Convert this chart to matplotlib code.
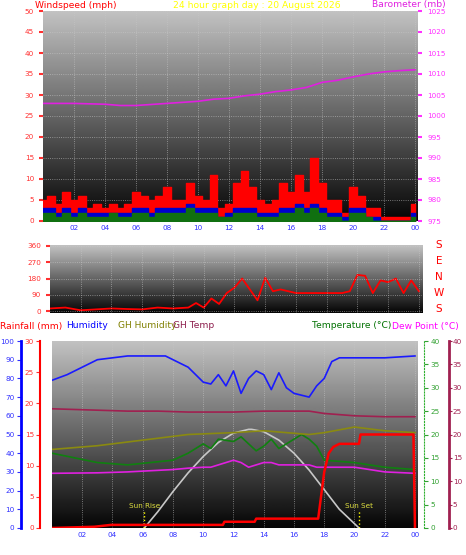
import numpy as np
import matplotlib
matplotlib.use("Agg")
import matplotlib.pyplot as plt

# wind, half-hour steps 0..24
wind_hours = [i * 0.5 for i in range(49)]
wind_gust = [5, 6, 4, 7, 5, 6, 3, 4, 3, 4, 3, 4, 7, 6, 5, 6, 8, 5, 5, 9, 6, 5, 11, 3, 4,
             9, 12, 8, 5, 4, 5, 9, 7, 11, 7, 15, 9, 5, 5, 2, 8, 6, 3, 3, 1, 1, 1, 1, 4]
wind_avg = [3, 3, 2, 3, 2, 3, 2, 2, 2, 2, 2, 2, 3, 3, 2, 3, 3, 3, 3, 4, 3, 3, 3, 1, 2,
            3, 3, 3, 2, 2, 2, 3, 3, 4, 3, 4, 3, 2, 2, 1, 3, 3, 1, 1, 0, 0, 0, 0, 2]
wind_speed = [2, 2, 1, 2, 1, 2, 1, 1, 1, 2, 1, 1, 2, 2, 1, 2, 2, 2, 2, 3, 2, 2, 2, 1, 1,
              2, 2, 2, 1, 1, 1, 2, 2, 3, 2, 3, 2, 1, 1, 0, 2, 2, 1, 0, 0, 0, 0, 0, 1]

baro_hours = [0, 2, 4, 5, 6, 8, 10, 11, 12, 13, 14, 15, 16, 17, 18, 19, 20, 21, 22, 23, 24]
baro = [1003, 1003, 1002.8, 1002.5, 1002.5, 1003, 1003.5, 1004, 1004.2, 1004.8, 1005.2,
        1005.8, 1006.2, 1006.8, 1008, 1008.5, 1009.3, 1010, 1010.5, 1010.8, 1011]

dir_hours = [0, 1, 2, 3, 4, 5, 6, 7, 8, 9, 9.5, 10, 10.5, 11, 11.5, 12, 12.5, 13, 13.5,
             14, 14.5, 15, 16, 17, 18, 19, 19.5, 20, 20.5, 21, 21.5, 22, 22.5, 23, 23.5, 24]
wind_dir = [15, 20, 5, 10, 15, 12, 10, 20, 15, 20, 45, 20, 70, 40, 100, 130, 180, 120, 60,
            185, 110, 120, 100, 100, 100, 100, 110, 200, 195, 100, 170, 160, 180, 100, 170, 110]

hum_hours = [0, 1, 2, 3, 4, 5, 7.5, 8, 9, 10, 10.5, 11, 11.5, 12, 12.5, 13, 13.5, 14, 14.5,
             15, 15.5, 16, 17, 17.5, 18, 18.5, 19, 22, 24]
humidity = [79, 82, 86, 90, 91, 92, 92, 90, 86, 78, 77, 82, 76, 84, 72, 80, 84, 82, 74,
            83, 75, 72, 70, 76, 80, 89, 91, 91, 92]

gh_hours = [0, 3, 5, 7, 9, 12, 14, 17, 18, 20, 22, 24]
gh_humidity = [42, 44, 46, 48, 50, 51, 52, 50, 51, 54, 52, 51]
gh_temp = [25.5, 25.2, 25, 25, 24.8, 24.8, 25, 25, 24.5, 24, 23.8, 23.8]

temp_hours = [0, 3, 5, 8, 9, 10, 10.5, 11, 12, 12.5, 13, 13.5, 14, 14.5, 15, 15.5, 16,
              16.5, 17, 17.5, 18, 20, 22, 24]
temperature = [16, 14, 13.5, 14.5, 16, 18, 17, 19, 18.5, 19.5, 18, 16.5, 17.5, 19, 17, 18,
               19, 20, 19, 17.5, 14.5, 14, 13, 12.5]
dew_point = [11.7, 11.8, 12, 12.5, 12.8, 13, 13, 13.5, 14.5, 14, 13, 13.5, 14, 14, 13.5,
             13.5, 13.5, 13.5, 13.5, 13, 13, 13, 12, 11.7]

rain_hours = [0, 2.8, 3.9, 11.3, 11.4, 13.4, 13.5, 17.6, 18, 18.3, 18.6, 19, 20.3, 20.4, 23.9, 24]
rainfall = [0, 0.2, 0.5, 0.5, 1, 1, 1.5, 1.5, 9, 12, 13, 13.5, 13.5, 15, 15, 0]

sun_hours = [6.1, 7, 8, 9, 10, 11, 12, 13, 13.2, 14, 15, 16, 17, 18, 19, 20.3]
sun_elev = [0, 3.5, 7.8, 11.8, 15.3, 18.3, 20.3, 21.1, 21.1, 20.6, 18.8, 16, 12.4, 8.2, 4, 0]

xticks = list(range(2, 25, 2))
xlabels = ["%02d" % (h % 24) for h in xticks]

W, H = 466, 555
fig = plt.figure(figsize=(W / 100, H / 100), dpi=100)
fig.patch.set_facecolor("white")
plt.rcParams['font.family'] = ['DejaVu Sans']
TICK = 5.2
HEAD = 6.6


def px(l, t, r, b):
    return [l / W, 1 - b / H, (r - l) / W, (b - t) / H]


def grey_bg(ax, top=0.76, bottom=0.02):
    g = np.linspace(top, bottom, 200).reshape(-1, 1)
    ax.imshow(g, cmap="gray", vmin=0, vmax=1, aspect="auto",
              extent=[0, 1, 0, 1], transform=ax.transAxes, zorder=0)


def style(ax, xt):
    ax.set_facecolor("black")
    for s in ax.spines.values():
        s.set_visible(False)
    ax.grid(True, color="#c8c8c8", linestyle=":", linewidth=0.6, alpha=0.7)
    ax.set_axisbelow(False)
    ax.set_xlim(0, 24.2)
    ax.set_xticks(xticks)
    if xt:
        ax.set_xticklabels(xlabels, fontsize=TICK, color="#3030ff")
    else:
        ax.set_xticklabels([])
    ax.tick_params(axis="x", length=0, pad=3)


# ---- top: wind & barometer
ax1 = fig.add_axes(px(43, 11, 418, 221))
grey_bg(ax1)
style(ax1, True)
ax1.set_ylim(0, 50)
ax1.set_yticks(range(0, 51, 5))
ax1.tick_params(axis="y", labelsize=TICK, colors="#ff3030", length=3, width=1.5)
ax1.fill_between(wind_hours, wind_gust, step="mid", color="#ff0000", zorder=3)
ax1.fill_between(wind_hours, wind_avg, step="mid", color="#0000cc", zorder=4)
ax1.fill_between(wind_hours, wind_speed, step="mid", color="#107010", zorder=5)
ax1b = ax1.twinx()
for s in ax1b.spines.values():
    s.set_visible(False)
ax1b.set_ylim(975, 1025)
ax1b.set_yticks(range(975, 1026, 5))
ax1b.tick_params(axis="y", labelsize=TICK, colors="#ff30ff", length=3, width=1.5)
ax1b.plot(baro_hours, baro, color="#e020e0", lw=1.2)
fig.text(35 / W, 1 - 5 / H, "Windspeed (mph)", color="red", fontsize=HEAD, va="center")
fig.text(173 / W, 1 - 5 / H, "24 hour graph day : 20 August 2026", color="yellow",
         fontsize=HEAD, va="center")
fig.text(372 / W, 1 - 5 / H, "Barometer (mb)", color="#e020e0", fontsize=HEAD, va="center")

# ---- middle: wind direction
ax2 = fig.add_axes(px(50, 245, 422, 313))
grey_bg(ax2)
style(ax2, False)
ax2.set_ylim(-10, 365)
ax2.set_yticks(range(0, 361, 90))
ax2.tick_params(axis="y", labelsize=TICK, colors="#ff3030", length=3, width=1.5)
ax2.plot(dir_hours, wind_dir, color="red", lw=1.3)
for v, lab in zip([360, 270, 180, 90, 0], ["S", "E", "N", "W", "S"]):
    fig.text(439 / W, 1 - (309 - v * 64 / 360) / H, lab, color="red", fontsize=7.5,
             ha="center", va="center")

fig.text(0, 1 - 326 / H, "Rainfall (mm)", color="red", fontsize=HEAD, va="center")
fig.text(66 / W, 1 - 326 / H, "Humidity", color="#0000ff", fontsize=HEAD, va="center")
fig.text(118 / W, 1 - 326 / H, "GH Humidity", color="#808000", fontsize=HEAD, va="center")
fig.text(173 / W, 1 - 326 / H, "GH Temp", color="#8b1a4a", fontsize=HEAD, va="center")
fig.text(312 / W, 1 - 326 / H, "Temperature (°C)", color="#007000", fontsize=HEAD, va="center")
fig.text(392 / W, 1 - 326 / H, "Dew Point (°C)", color="#ff00ff", fontsize=HEAD, va="center")

# ---- bottom: temps, humidity, rain
ax3 = fig.add_axes(px(52, 341, 418, 528))
grey_bg(ax3)
style(ax3, True)
ax3.set_ylim(0, 40)
ax3.set_yticks([])
ax3.plot(sun_hours, sun_elev, color="#c8c8c8", lw=1.2, zorder=3)
ax3.plot(temp_hours, temperature, color="#108010", lw=1.2, zorder=4)
ax3.plot(temp_hours, dew_point, color="#e020e0", lw=1.2, zorder=4)
ax3.plot(gh_hours, gh_temp, color="#a02050", lw=1.2, zorder=4)
for h, lab in [(6.1, "Sun Rise"), (20.3, "Sun Set")]:
    ax3.plot([h, h], [0, 3.8], color="yellow", ls=":", lw=1, zorder=5)
    ax3.text(h, 4.3, lab, color="#e0e040", fontsize=TICK, ha="center", zorder=5)

# humidity axis (blue, far left)
axh = ax3.twinx()
axh.set_ylim(0, 100)
for s in ["top", "bottom", "right"]:
    axh.spines[s].set_visible(False)
axh.yaxis.set_ticks_position("left")
axh.spines["left"].set_position(("outward", 22))
axh.spines["left"].set_color("#0000ff")
axh.spines["left"].set_linewidth(2)
axh.set_yticks(range(0, 101, 10))
axh.tick_params(axis="y", labelsize=TICK, colors="#3030ff", length=3, pad=2)
axh.plot(hum_hours, humidity, color="#1a1aff", lw=1.2, zorder=4)
axh.plot(gh_hours, gh_humidity, color="#8a8a10", lw=1.2, zorder=4)

# rainfall axis (red)
axr = ax3.twinx()
axr.set_ylim(0, 30)
for s in ["top", "bottom", "right"]:
    axr.spines[s].set_visible(False)
axr.yaxis.set_ticks_position("left")
axr.spines["left"].set_position(("outward", 9))
axr.spines["left"].set_color("#ff0000")
axr.spines["left"].set_linewidth(1.5)
axr.set_yticks(range(0, 31, 5))
axr.tick_params(axis="y", labelsize=TICK, colors="#ff3030", length=3, pad=1)
axr.plot(rain_hours, rainfall, color="red", lw=1.8, zorder=6)

# temperature axis (green)
axt = ax3.twinx()
axt.set_ylim(0, 40)
for s in ["top", "bottom", "left"]:
    axt.spines[s].set_visible(False)
axt.spines["right"].set_position(("outward", 4))
axt.spines["right"].set_color("#30b030")
axt.spines["right"].set_linestyle(":")
axt.set_yticks(range(0, 41, 5))
axt.tick_params(axis="y", labelsize=TICK, colors="#30a030", length=3, pad=2)

# GH temp axis (maroon)
axg = ax3.twinx()
axg.set_ylim(0, 40)
for s in ["top", "bottom", "left"]:
    axg.spines[s].set_visible(False)
axg.spines["right"].set_position(("outward", 22))
axg.spines["right"].set_color("#a02050")
axg.spines["right"].set_linewidth(2)
axg.set_yticks(range(0, 41, 5))
axg.tick_params(axis="y", labelsize=TICK, colors="#a02050", length=2, pad=1)

for a in [axh, axr, axt, axg]:
    a.patch.set_visible(False)

fig.savefig("out.png", dpi=100, facecolor="white")
